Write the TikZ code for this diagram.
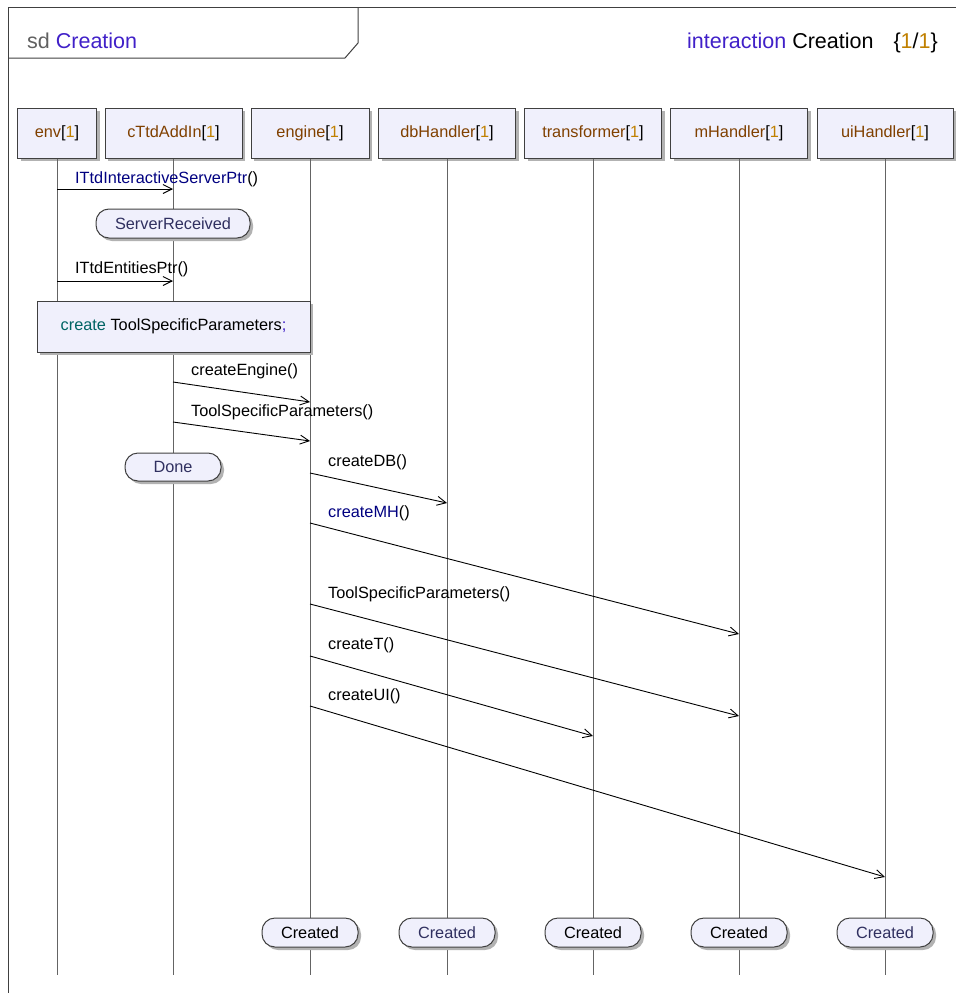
\documentclass[tikz,border=0pt]{standalone}
\usepackage{fontspec}
\setmainfont{Liberation Sans}
\usetikzlibrary{arrows.meta,shadows}
\definecolor{headfill}{RGB}{240,240,252}
\definecolor{bordercol}{RGB}{64,64,64}
\definecolor{linegray}{RGB}{100,100,100}
\definecolor{namebrown}{RGB}{128,64,0}
\definecolor{gold}{RGB}{192,128,0}
\definecolor{violet}{RGB}{64,32,200}
\definecolor{navy}{RGB}{0,0,128}
\definecolor{statetext}{RGB}{48,48,96}
\definecolor{teal2}{RGB}{0,100,100}
\definecolor{sdgray}{RGB}{96,96,96}
\newcommand{\nm}[1]{\textcolor{namebrown}{#1}[\textcolor{gold}{1}]}
\begin{document}
\begin{tikzpicture}[x=1pt,y=-1pt,
  every node/.style={font=\fontsize{16.3}{19}\selectfont, inner sep=0pt},
  shd/.style={drop shadow={shadow xshift=3pt, shadow yshift=-3pt, fill=black!30, opacity=1}},
  head/.style={draw=bordercol, fill=headfill, line width=1, minimum height=50, shd},
  lifeline/.style={draw=linegray, line width=1},
  msg/.style={draw=black, line width=0.9, -{Straight Barb[length=9pt,width=9pt]}},
  statebox/.style={draw=bordercol, fill=headfill, line width=1, rounded corners=13, minimum height=29, shd, text=statetext},
  lbl/.style={anchor=base west},
  frameline/.style={draw=bordercol, line width=1}]
\useasboundingbox (0,0) rectangle (956,993);

% frame
\draw[frameline] (8,993) -- (8,7) -- (956,7);
\draw[frameline] (8,58) -- (345,58) -- (358,43) -- (358,7);
\node[anchor=base west, font=\fontsize{21.5}{24}\selectfont] (title) at (27,48) {\textcolor{sdgray}{sd} \textcolor{violet}{Creation}};
\node[anchor=base east, font=\fontsize{21.5}{24}\selectfont] (inter) at (938,48) {\textcolor{violet}{interaction} Creation\hspace{20pt}\{\textcolor{gold}{1}/\textcolor{gold}{1}\}};

% lifeline heads
\node[head, minimum width=79] (env) at (57,133) {\nm{env}};
\node[head, minimum width=137] (addin) at (173.5,133) {\nm{cTtdAddIn}};
\node[head, minimum width=118] (engine) at (310,133) {\nm{engine}};
\node[head, minimum width=137] (db) at (447,133) {\nm{dbHandler}};
\node[head, minimum width=137] (tr) at (593,133) {\nm{transformer}};
\node[head, minimum width=137] (mh) at (739,133) {\nm{mHandler}};
\node[head, minimum width=136] (ui) at (885,133) {\nm{uiHandler}};

% lifeline ends
\coordinate (envE) at (57,975);
\coordinate (addinE) at (173,975);
\coordinate (engineE) at (310,975);
\coordinate (dbE) at (447,975);
\coordinate (trE) at (593,975);
\coordinate (mhE) at (739,975);
\coordinate (uiE) at (885,975);
\draw[lifeline] (env.south) -- (envE);
\draw[lifeline] (addin.south -| addinE) -- (addinE);
\draw[lifeline] (engine.south) -- (engineE);
\draw[lifeline] (db.south) -- (dbE);
\draw[lifeline] (tr.south) -- (trE);
\draw[lifeline] (mh.south) -- (mhE);
\draw[lifeline] (ui.south) -- (uiE);

% message end points
\coordinate (m1s) at (57,189);  \coordinate (m1e) at (173,189);
\coordinate (m2s) at (57,281);  \coordinate (m2e) at (173,281);
\coordinate (m3s) at (173,382); \coordinate (m3e) at (310,402);
\coordinate (m4s) at (173,422); \coordinate (m4e) at (310,441);
\coordinate (m5s) at (310,473); \coordinate (m5e) at (447,503);
\coordinate (m6s) at (310,523); \coordinate (m6e) at (739,634);
\coordinate (m7s) at (310,604); \coordinate (m7e) at (739,716);
\coordinate (m8s) at (310,656); \coordinate (m8e) at (593,736);
\coordinate (m9s) at (310,706); \coordinate (m9e) at (885,877);

% states and action box
\node[statebox, minimum width=154] (srv) at (173,223.5) {ServerReceived};
\node[draw=bordercol, fill=headfill, line width=1, minimum width=273, minimum height=51, shd] (create) at (173.5,326.5)
  {\textcolor{teal2}{create} ToolSpecificParameters\textcolor{violet}{;}};
\node[statebox, minimum width=96, minimum height=28] (done) at (173,467) {Done};

% messages
\draw[msg] (m1s) -- (m1e);
\draw[msg] (m2s) -- (m2e);
\draw[msg] (m3s) -- (m3e);
\draw[msg] (m4s) -- (m4e);
\draw[msg] (m5s) -- (m5e);
\draw[msg] (m6s) -- (m6e);
\draw[msg] (m7s) -- (m7e);
\draw[msg] (m8s) -- (m8e);
\draw[msg] (m9s) -- (m9e);

% labels
\node[lbl] (l1) at (75,183) {\textcolor{navy}{ITtdInteractiveServerPtr}()};
\node[lbl] (l2) at (75,273) {ITtdEntitiesPtr()};
\node[lbl] (l3) at (191,375) {createEngine()};
\node[lbl] (l4) at (191,416) {ToolSpecificParameters()};
\node[lbl] (l5) at (328,466) {createDB()};
\node[lbl] (l6) at (328,517) {\textcolor{navy}{createMH}()};
\node[lbl] (l7) at (328,598) {ToolSpecificParameters()};
\node[lbl] (l8) at (328,649) {createT()};
\node[lbl] (l9) at (328,700) {createUI()};

% created states
\node[statebox, minimum width=96, text=black] (c1) at (310,932.5) {Created};
\node[statebox, minimum width=96] (c2) at (447,932.5) {Created};
\node[statebox, minimum width=96, text=black] (c3) at (593,932.5) {Created};
\node[statebox, minimum width=96, text=black] (c4) at (739,932.5) {Created};
\node[statebox, minimum width=96] (c5) at (885,932.5) {Created};
\end{tikzpicture}
\end{document}
